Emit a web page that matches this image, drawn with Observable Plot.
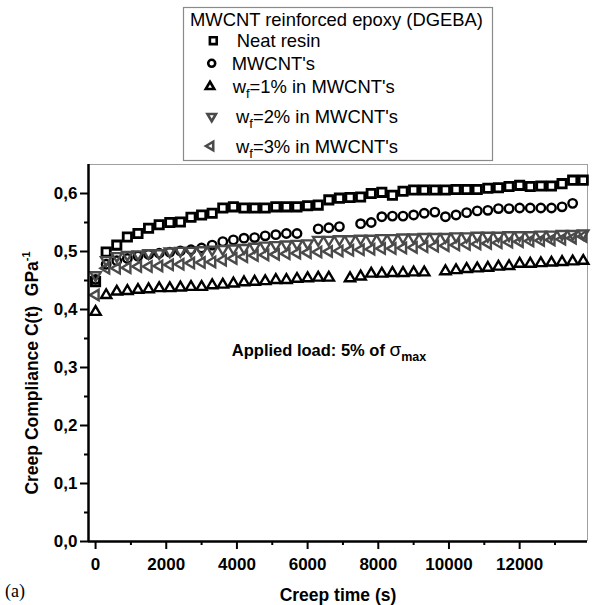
<!DOCTYPE html>
<html><head><meta charset="utf-8">
<script src="https://cdn.jsdelivr.net/npm/d3@7"></script>
<script src="https://cdn.jsdelivr.net/npm/@observablehq/plot@0.6"></script>
<style>
html,body{margin:0;background:#fff;overflow:hidden;}
#wrap{position:relative;width:592px;height:605px;font-family:"Liberation Sans",Arial,sans-serif;}
#wrap svg{display:block;}
#overlay{position:absolute;left:0;top:0;pointer-events:none;}
</style></head>
<body><div id="wrap"></div>
<script>
// ---- data ----
const times = [0,300,600,900,1200,1500,1800,2100,2400,2700,3000,3300,3600,3900,4200,4500,4800,5100,5400,5700,6000,6300,6600,6900,7200,7500,7800,8100,8400,8700,9000,9300,9600,9900,10200,10500,10800,11100,11400,11700,12000,12300,12600,12900,13200,13500,13800];
const neatResin = [0.448,0.499,0.511,0.525,0.531,0.540,0.546,0.550,0.551,0.559,0.563,0.566,0.575,0.577,0.575,0.575,0.575,0.577,0.577,0.577,0.579,0.580,0.589,0.592,0.593,0.594,0.600,0.602,0.597,0.604,0.606,0.606,0.606,0.606,0.607,0.607,0.607,0.609,0.610,0.612,0.614,0.612,0.613,0.613,0.617,0.623,0.623];
const mwcnt = [0.452,0.478,0.484,0.488,0.492,0.495,0.497,0.499,0.501,0.503,0.506,0.511,0.517,0.520,0.523,0.524,0.527,0.529,0.531,0.531,null,0.539,0.541,0.543,null,0.548,0.550,0.560,0.561,0.561,0.563,0.566,0.568,0.560,0.563,0.567,0.570,0.571,0.574,0.574,0.575,0.575,0.575,0.575,0.577,0.583,null];
const wf1 = [0.396,0.425,0.431,0.432,0.434,0.435,0.437,0.437,0.438,0.439,0.439,0.442,0.443,0.445,0.447,0.448,0.449,0.451,0.451,0.453,0.454,0.455,0.455,null,0.454,0.457,0.462,0.462,0.463,0.463,0.464,0.464,null,0.466,0.468,0.470,0.471,0.472,0.474,0.475,0.479,0.479,0.480,0.481,0.482,0.483,0.484];
const wf2 = [0.459,0.485,0.492,0.494,0.495,0.497,0.497,0.500,0.501,0.501,0.502,0.503,0.504,0.505,0.506,0.508,0.510,0.511,0.512,0.513,0.514,0.520,0.520,0.521,0.521,0.522,0.522,0.523,0.523,0.524,0.524,0.525,0.525,0.525,0.526,0.526,0.527,0.527,0.527,0.528,0.528,0.528,0.529,0.529,0.530,0.530,0.531];
const wf3 = [0.425,0.471,0.471,0.472,0.474,0.474,0.475,0.477,0.478,0.480,0.481,0.482,0.485,0.488,0.491,0.493,0.494,0.495,0.496,0.497,0.498,0.499,0.500,0.501,0.502,0.503,0.504,0.505,0.505,0.506,0.507,0.508,0.509,0.510,0.511,0.512,0.513,0.514,0.515,0.516,0.517,0.518,0.519,0.520,0.521,0.523,0.526];

const xTicks = [0,2000,4000,6000,8000,10000,12000];
const xMinor = [1000,3000,5000,7000,9000,11000,13000];
const yTicks = [0,0.1,0.2,0.3,0.4,0.5,0.6];
const yMinor = [0.05,0.15,0.25,0.35,0.45,0.55];
const legendTitle = "MWCNT reinforced epoxy (DGEBA)";
const annotation = [{t: 3870, c: 0.330}];

// ---- symbols ----
function poly(pts){return {draw(ctx,size){const k=Math.sqrt(size/Math.PI);ctx.moveTo(pts[0][0]*k,pts[0][1]*k);for(let i=1;i<pts.length;i++)ctx.lineTo(pts[i][0]*k,pts[i][1]*k);ctx.closePath();}};}
const symSquare = poly([[-0.9,-0.9],[0.9,-0.9],[0.9,0.9],[-0.9,0.9]]);
const symCircle = {draw(ctx,size){const k=0.92*Math.sqrt(size/Math.PI);ctx.moveTo(k,0);ctx.arc(0,0,k,0,2*Math.PI);}};
const symUp = poly([[0,-1.25],[1.12,0.66],[-1.12,0.66]]);
const symDown = poly([[0,1.25],[1.12,-0.66],[-1.12,-0.66]]);
const symLeft = poly([[-1.25,0],[0.66,-1.12],[0.66,1.12]]);

const series = [
  {name:"Neat resin", values: neatResin, sym: symSquare, color:"#000", sw:2.8},
  {name:"MWCNT's", values: mwcnt, sym: symCircle, color:"#000", sw:2.4},
  {name:"wf=1% in MWCNT's", values: wf1, sym: symUp, color:"#000", sw:2.4},
  {name:"wf=3% in MWCNT's", values: wf3, sym: symLeft, color:"#4a4a4a", sw:2.4},
  {name:"wf=2% in MWCNT's", values: wf2, sym: symDown, color:"#4a4a4a", sw:2.4}
];
function rows(vals){const r=[];vals.forEach((v,i)=>{if(v!=null)r.push({t:times[i],c:v});});return r;}

const FONT = "Liberation Sans, Arial, sans-serif";
const marks = [
  Plot.ruleY([0.65],{stroke:"#a0a0a0",strokeWidth:1}),
  Plot.ruleX([13920],{stroke:"#a0a0a0",strokeWidth:1}),
  ...series.map(s=>Plot.dot(rows(s.values),{x:"t",y:"c",symbol:s.sym,r:4.6,stroke:s.color,strokeWidth:s.sw,fill:"none",strokeLinejoin:"miter"})),
  Plot.axisX({ticks:xTicks,tickSize:8,tickPadding:8,tickFormat:d=>String(d),fontSize:17,fontWeight:"bold",fontFamily:FONT,strokeWidth:2,label:null}),
  Plot.axisX({ticks:xMinor,tickSize:4,tickFormat:()=>"",strokeWidth:2,label:null}),
  Plot.axisY({ticks:yTicks,tickSize:8,tickPadding:3,tickFormat:d=>d.toFixed(1).replace(".",","),fontSize:17,fontWeight:"bold",fontFamily:FONT,strokeWidth:2,label:null}),
  Plot.axisY({ticks:yMinor,tickSize:4,tickFormat:()=>"",strokeWidth:2,label:null}),
  Plot.ruleX([-200],{stroke:"#000",strokeWidth:2.5}),
  Plot.ruleY([0],{stroke:"#000",strokeWidth:2.5})
];

const chart = Plot.plot({
  width:592,height:605,
  marginLeft:88,marginRight:5,marginTop:164,marginBottom:64,
  x:{domain:[-200,13920],label:null},
  y:{domain:[0,0.65],label:null},
  style:{fontFamily:FONT,color:"#000",background:"#fff",overflow:"visible"},
  marks
});
document.getElementById("wrap").appendChild(chart);

const svg = d3.select(chart);
const xs = chart.scale("x"), ys = chart.scale("y");
// annotation
const ann = svg.append("text").attr("x",xs.apply(annotation[0].t)).attr("y",ys.apply(annotation[0].c)+6)
  .attr("text-anchor","start").attr("font-family",FONT).attr("font-size",16.5).attr("font-weight","bold").attr("fill","#000");
ann.append("tspan").text("Applied load: 5% of ");
ann.append("tspan").attr("font-weight","normal").attr("font-size",19).text("σ");
ann.append("tspan").attr("font-size",12.5).attr("dy",5).text("max");
// axis titles
svg.append("text").attr("x",338).attr("y",601).attr("text-anchor","middle")
  .attr("font-family",FONT).attr("font-size",17.5).attr("font-weight","bold").text("Creep time (s)");
const yl = svg.append("text").attr("transform","translate(38,373) rotate(-90)").attr("text-anchor","middle")
  .attr("font-family",FONT).attr("font-size",17.5).attr("font-weight","bold");
yl.append("tspan").text("Creep Compliance C(t)\u00a0\u00a0GPa");
yl.append("tspan").attr("font-size",11).attr("dy",-8).text("-1");
svg.append("text").attr("x",5).attr("y",597).attr("text-anchor","start").attr("font-family","Liberation Serif, DejaVu Serif, serif")
  .attr("font-size",18).text("(a)");

// legend overlay
const lg = d3.select("#wrap").append("svg").attr("id","overlay").attr("width",592).attr("height",170);
lg.append("rect").attr("x",183.5).attr("y",7.5).attr("width",309).attr("height",153).attr("fill","#fff").attr("stroke","#8a8a8a").attr("stroke-width",1.2);
lg.append("text").attr("x",190).attr("y",26).attr("font-family",FONT).attr("font-size",18.4).text(legendTitle);
const items = [
  {s:series[0], sx:213.3, sy:40.7, tx:236.7, ty:46.5, main:"Neat resin"},
  {s:series[1], sx:211.7, sy:63.3, tx:231.7, ty:69.5, main:"MWCNT's"},
  {s:series[2], sx:210, sy:86.5, tx:232.7, ty:92.5, pct:"=1% in MWCNT's"},
  {s:series[4], sx:211.7, sy:116.5, tx:236, ty:123, pct:"=2% in MWCNT's"},
  {s:series[3], sx:210.7, sy:146, tx:236, ty:153, pct:"=3% in MWCNT's"}
];
items.forEach(it=>{
  lg.append("path").attr("d",d3.symbol().type(it.s.sym).size(Math.PI*3.8*3.8)()).attr("transform",`translate(${it.sx},${it.sy})`)
    .attr("fill","none").attr("stroke",it.s.color).attr("stroke-width",2.6).attr("stroke-linejoin","miter");
  const t = lg.append("text").attr("x",it.tx).attr("y",it.ty).attr("font-family",FONT).attr("font-size",18.4);
  if(it.main) t.text(it.main);
  else { t.append("tspan").text("w"); t.append("tspan").attr("font-size",13).attr("dy",5).text("f"); t.append("tspan").attr("dy",-5).text(it.pct); }
});
</script></body></html>
